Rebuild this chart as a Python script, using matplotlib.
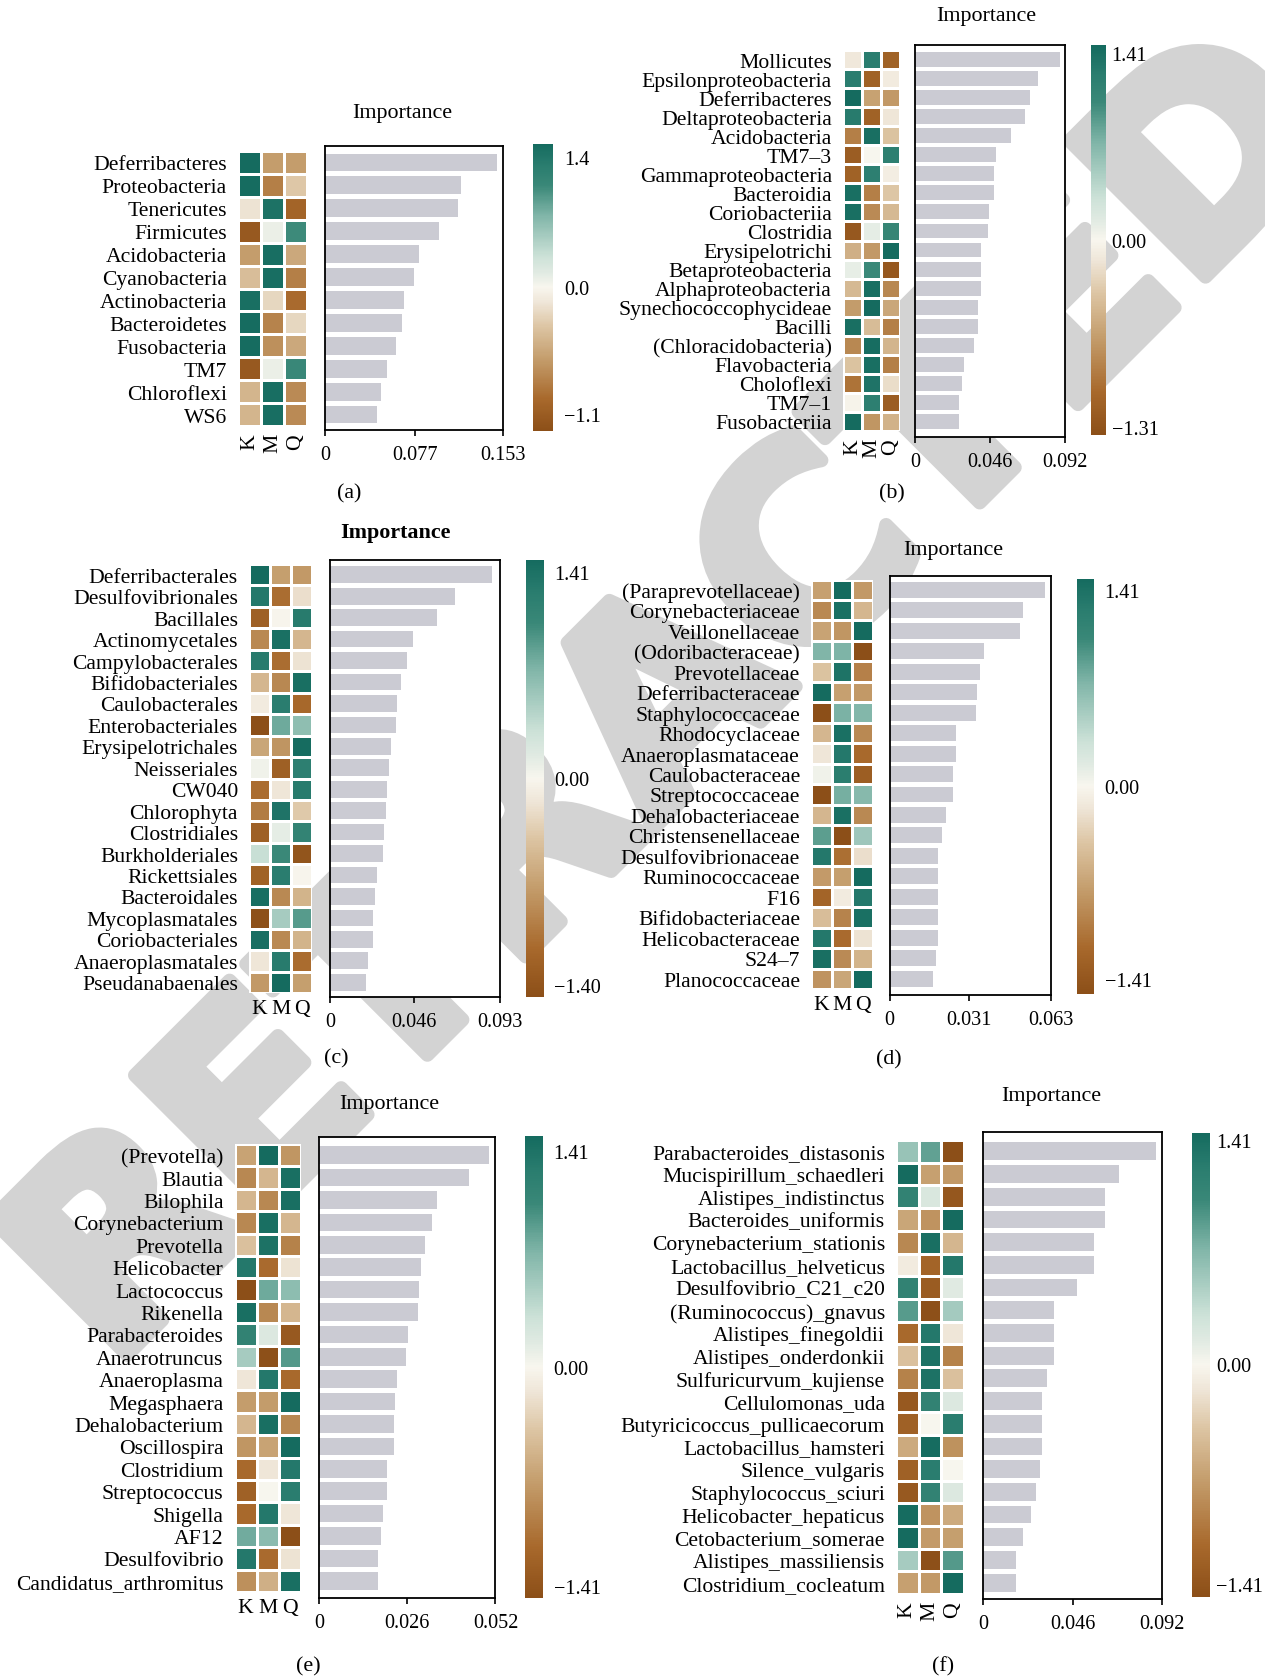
import matplotlib
matplotlib.use("Agg")
import matplotlib.pyplot as plt
import matplotlib.patheffects as pe
import matplotlib.transforms as mtransforms
import numpy as np
from matplotlib.colors import LinearSegmentedColormap, TwoSlopeNorm
from matplotlib.cm import ScalarMappable

plt.rcParams['font.family'] = ['Liberation Serif', 'DejaVu Serif']

# ---------------------------------------------------------------- data
# (a) phylum
a_taxa = ["Deferribacteres", "Proteobacteria", "Tenericutes", "Firmicutes",
          "Acidobacteria", "Cyanobacteria", "Actinobacteria", "Bacteroidetes",
          "Fusobacteria", "TM7", "Chloroflexi", "WS6"]
a_importance = [0.1478, 0.1170, 0.1146, 0.0981, 0.0805, 0.0768, 0.0677, 0.0658,
                0.0607, 0.0530, 0.0482, 0.0445]
a_K = [1.40, 1.38, -0.13, -1.00, -0.55, -0.35, 1.35, 1.38, 1.38, -1.00, -0.40, -0.40]
a_M = [-0.55, -0.73, 1.32, 0.08, 1.36, 1.36, -0.20, -0.70, -0.62, 0.08, 1.36, 1.36]
a_Q = [-0.55, -0.29, -0.90, 0.98, -0.48, -0.73, -0.85, -0.20, -0.48, 1.00, -0.66, -0.66]
a_range = (-1.1, 1.4)

# (b) class
b_taxa = ["Mollicutes", "Epsilonproteobacteria", "Deferribacteres", "Deltaproteobacteria",
          "Acidobacteria", "TM7–3", "Gammaproteobacteria", "Bacteroidia", "Coriobacteriia",
          "Clostridia", "Erysipelotrichi", "Betaproteobacteria", "Alphaproteobacteria",
          "Synechococcophycideae", "Bacilli", "(Chloracidobacteria)", "Flavobacteria",
          "Choloflexi", "TM7–1", "Fusobacteriia"]
b_importance = [0.0890, 0.0754, 0.0706, 0.0675, 0.0590, 0.0494, 0.0484, 0.0484, 0.0454,
                0.0449, 0.0406, 0.0406, 0.0406, 0.0386, 0.0386, 0.0363, 0.0300, 0.0287,
                0.0270, 0.0270]
b_K = [-0.12, 1.20, 1.41, 1.22, -0.86, -1.15, -1.10, 1.36, 1.36, -1.20,
       -0.52, 0.10, -0.45, -0.66, 1.36, -0.80, -0.37, -0.95, -0.03, 1.40]
b_M = [1.20, -1.10, -0.62, -1.10, 1.36, 0.00, 1.15, -0.86, -0.78, 0.12,
       -0.68, 1.00, 1.36, 1.40, -0.42, 1.38, 1.36, 1.30, 1.15, -0.70]
b_Q = [-1.10, -0.10, -0.68, -0.14, -0.37, 1.15, -0.08, -0.35, -0.45, 1.05,
       1.41, -1.20, -0.80, -0.58, -0.86, -0.48, -0.86, -0.20, -1.15, -0.50]
b_range = (-1.31, 1.41)

# (c) order
c_taxa = ["Deferribacterales", "Desulfovibrionales", "Bacillales", "Actinomycetales",
          "Campylobacterales", "Bifidobacteriales", "Caulobacterales", "Enterobacteriales",
          "Erysipelotrichales", "Neisseriales", "CW040", "Chlorophyta", "Clostridiales",
          "Burkholderiales", "Rickettsiales", "Bacteroidales", "Mycoplasmatales",
          "Coriobacteriales", "Anaeroplasmatales", "Pseudanabaenales"]
c_importance = [0.0891, 0.0686, 0.0588, 0.0454, 0.0423, 0.0389, 0.0368, 0.0362, 0.0334,
                0.0322, 0.0313, 0.0307, 0.0295, 0.0289, 0.0258, 0.0246, 0.0234, 0.0234,
                0.0206, 0.0197]
c_K = [1.41, 1.25, -1.20, -0.85, 1.22, -0.50, -0.10, -1.40, -0.63, 0.05,
       -1.07, -0.95, -1.20, 0.33, -1.18, 1.37, -1.38, 1.37, -0.15, -0.73]
c_M = [-0.68, -1.05, -0.02, 1.35, -1.05, -0.86, 1.20, 0.78, -0.76, -1.20,
       -0.15, 1.30, 0.12, 1.00, 1.20, -0.85, 0.50, -0.85, 1.22, 1.40]
c_Q = [-0.73, -0.20, 1.22, -0.50, -0.17, 1.36, -1.10, 0.62, 1.39, 1.15,
       1.22, -0.35, 1.08, -1.33, -0.02, -0.52, 0.88, -0.52, -1.07, -0.68]
c_range = (-1.40, 1.41)

# (d) family
d_taxa = ["(Paraprevotellaceae)", "Corynebacteriaceae", "Veillonellaceae",
          "(Odoribacteraceae)", "Prevotellaceae", "Deferribacteraceae",
          "Staphylococcaceae", "Rhodocyclaceae", "Anaeroplasmataceae", "Caulobacteraceae",
          "Streptococcaceae", "Dehalobacteriaceae", "Christensenellaceae",
          "Desulfovibrionaceae", "Ruminococcaceae", "F16", "Bifidobacteriaceae",
          "Helicobacteraceae", "S24–7", "Planococcaceae"]
d_importance = [0.0609, 0.0523, 0.0510, 0.0369, 0.0353, 0.0342, 0.0337, 0.0262, 0.0259,
                0.0248, 0.0248, 0.0220, 0.0207, 0.0191, 0.0191, 0.0191, 0.0188, 0.0188,
                0.0180, 0.0172]
d_K = [-0.68, -0.85, -0.66, 0.70, -0.40, 1.41, -1.41, -0.50, -0.15, 0.05,
       -1.41, -0.50, 0.85, 1.25, -0.72, -1.15, -0.45, 1.25, 1.36, -0.78]
d_M = [1.41, 1.35, -0.75, 0.71, 1.32, -0.68, 0.72, 1.35, 1.25, 1.18,
       0.74, 1.35, -1.40, -1.05, -0.69, -0.10, -0.90, -1.08, -0.84, -0.63]
d_Q = [-0.73, -0.50, 1.41, -1.41, -0.92, -0.73, 0.69, -0.85, -1.10, -1.23,
       0.67, -0.85, 0.55, -0.20, 1.41, 1.25, 1.35, -0.17, -0.52, 1.41]
d_range = (-1.41, 1.41)

# (e) genus
e_taxa = ["(Prevotella)", "Blautia", "Bilophila", "Corynebacterium", "Prevotella",
          "Helicobacter", "Lactococcus", "Rikenella", "Parabacteroides", "Anaerotruncus",
          "Anaeroplasma", "Megasphaera", "Dehalobacterium", "Oscillospira", "Clostridium",
          "Streptococcus", "Shigella", "AF12", "Desulfovibrio", "Candidatus_arthromitus"]
e_importance = [0.0502, 0.0441, 0.0349, 0.0334, 0.0311, 0.0301, 0.0296, 0.0293, 0.0261,
                0.0255, 0.0231, 0.0224, 0.0222, 0.0222, 0.0199, 0.0199, 0.0189, 0.0183,
                0.0175, 0.0175]
e_K = [-0.66, -0.86, -0.50, -0.86, -0.42, 1.25, -1.41, 1.36, 1.10, 0.50,
       -0.15, -0.70, -0.50, -0.75, -1.10, -1.20, -1.10, 0.77, 1.25, -0.80]
e_M = [1.41, -0.50, -0.86, 1.36, 1.33, -1.08, 0.78, -0.86, 0.18, -1.39,
       1.25, -0.71, 1.36, -0.66, -0.15, 0.00, 1.25, 0.64, -1.08, -0.56]
e_Q = [-0.75, 1.36, 1.36, -0.50, -0.91, -0.17, 0.63, -0.50, -1.28, 0.89,
       -1.10, 1.41, -0.86, 1.41, 1.25, 1.20, -0.15, -1.41, -0.17, 1.36]
e_range = (-1.41, 1.41)

# (f) species
f_taxa = ["Parabacteroides_distasonis", "Mucispirillum_schaedleri", "Alistipes_indistinctus",
          "Bacteroides_uniformis", "Corynebacterium_stationis", "Lactobacillus_helveticus",
          "Desulfovibrio_C21_c20", "(Ruminococcus)_gnavus", "Alistipes_finegoldii",
          "Alistipes_onderdonkii", "Sulfuricurvum_kujiense", "Cellulomonas_uda",
          "Butyricicoccus_pullicaecorum", "Lactobacillus_hamsteri", "Silence_vulgaris",
          "Staphylococcus_sciuri", "Helicobacter_hepaticus", "Cetobacterium_somerae",
          "Alistipes_massiliensis", "Clostridium_cocleatum"]
f_importance = [0.0888, 0.0698, 0.0627, 0.0627, 0.0570, 0.0570, 0.0481, 0.0365, 0.0365,
                0.0365, 0.0327, 0.0302, 0.0302, 0.0302, 0.0291, 0.0270, 0.0245, 0.0205,
                0.0169, 0.0169]
f_K = [0.58, 1.41, 1.10, -0.63, -0.86, -0.10, 1.10, 0.88, -1.10, -0.42,
       -0.91, -1.28, -1.20, -0.60, -1.20, -1.28, 1.39, 1.41, 0.50, -0.68]
f_M = [0.83, -0.68, 0.20, -0.78, 1.36, -1.15, -1.25, -1.39, 1.25, 1.33,
       1.33, 1.10, 0.00, 1.39, 1.20, 1.10, -0.78, -0.72, -1.39, -0.73]
f_Q = [-1.41, -0.73, -1.30, 1.41, -0.50, 1.25, 0.15, 0.51, -0.15, -0.91,
       -0.42, 0.18, 1.20, -0.79, 0.00, 0.18, -0.60, -0.69, 0.89, 1.41]
f_range = (-1.41, 1.41)

groups = ["K", "M", "Q"]

# ---------------------------------------------------------------- style
W, H = 1265, 1681
BAR_COLOR = "#cbcbd3"
WATERMARK = "#d3d3d3"
LABEL_FS = 15.6
TICK_FS = 14.6

cmap = LinearSegmentedColormap.from_list("brown_teal", [
    (0.000, "#8c4f18"), (0.110, "#a8692c"), (0.250, "#c49d6c"), (0.360, "#dcc4a2"),
    (0.447, "#efe6d8"), (0.500, "#f8f6ee"), (0.553, "#e0eae2"), (0.606, "#cde2d8"),
    (0.750, "#80b5a8"), (0.855, "#3a8878"), (0.925, "#2a7d6f"), (1.000, "#156b5f")])


def rect(x0, x1, y0, y1):
    """Pixel box (top-left origin) -> figure fraction rectangle."""
    return [x0 / W, 1 - y1 / H, (x1 - x0) / W, (y1 - y0) / H]


def fmt(v, nd):
    s = f"{abs(v):.{nd}f}"
    if v == 0:
        return s
    return ("−" if v < 0 else "") + s


# cbshift: (top label, bottom label) nudges toward the middle of the bar, in px
panels = [
    dict(tag="(a)", taxa=a_taxa, imp=a_importance, K=a_K, M=a_M, Q=a_Q, rng=a_range,
         xmax=0.153, xmid=0.077, nd_x=3, nd_c=1,
         hm=(238, 307, 152, 427), bar=(325, 503, 147, 431), cb=(533, 553, 144.5, 432),
         title=(402, 113.5), tagpos=(349, 494), rot=90, cbpad=11, bold=False,
         cbshift=(7, 5)),
    dict(tag="(b)", taxa=b_taxa, imp=b_importance, K=b_K, M=b_M, Q=b_Q, rng=b_range,
         xmax=0.092, xmid=0.046, nd_x=3, nd_c=2,
         hm=(843, 900, 51, 432), bar=(915, 1065, 45.5, 438), cb=(1091, 1106, 46, 436),
         title=(986, 17), tagpos=(892, 494), rot=90, cbpad=5.6, bold=False,
         cbshift=(1, -4)),
    dict(tag="(c)", taxa=c_taxa, imp=c_importance, K=c_K, M=c_M, Q=c_Q, rng=c_range,
         xmax=0.093, xmid=0.046, nd_x=3, nd_c=2,
         hm=(249, 312, 565, 994), bar=(330, 499.5, 561, 998), cb=(525.5, 544, 560.5, 998),
         title=(395.7, 533), tagpos=(336.5, 1058.5), rot=0, cbpad=10, bold=True,
         cbshift=(6, 0)),
    dict(tag="(d)", taxa=d_taxa, imp=d_importance, K=d_K, M=d_M, Q=d_Q, rng=d_range,
         xmax=0.063, xmid=0.031, nd_x=3, nd_c=2,
         hm=(811, 873, 580.5, 990), bar=(889.5, 1050.5, 577, 995.5),
         cb=(1076.5, 1094, 579.5, 994.5),
         title=(953, 550), tagpos=(888.6, 1060), rot=0, cbpad=10.6, bold=False,
         cbshift=(5, 2)),
    dict(tag="(e)", taxa=e_taxa, imp=e_importance, K=e_K, M=e_M, Q=e_Q, rng=e_range,
         xmax=0.052, xmid=0.026, nd_x=3, nd_c=2,
         hm=(234.5, 301, 1145, 1593), bar=(319, 495.5, 1137.5, 1599),
         cb=(524.5, 543, 1137, 1599),
         title=(389.5, 1104.5), tagpos=(308, 1667), rot=0, cbpad=10.6, bold=False,
         cbshift=(8, 0)),
    dict(tag="(f)", taxa=f_taxa, imp=f_importance, K=f_K, M=f_M, Q=f_Q, rng=f_range,
         xmax=0.092, xmid=0.046, nd_x=3, nd_c=2,
         hm=(896, 963.5, 1141, 1595), bar=(983, 1162, 1132.5, 1600),
         cb=(1191.5, 1209.5, 1133.5, 1597.5),
         title=(1051, 1097), tagpos=(943, 1666.5), rot=90, cbpad=6.5, bold=False,
         cbshift=(1, 0)),
]

fig = plt.figure(figsize=(W / 100, H / 100), dpi=100)
fig.patch.set_facecolor("white")

# watermark behind every axes
fig.text(675 / W, 1 - 705 / H, "RETRACTED", rotation=45, rotation_mode="anchor",
         ha="center", va="center", fontsize=190, color=WATERMARK,
         family="DejaVu Sans", weight="bold", zorder=-5,
         path_effects=[pe.withStroke(linewidth=10, foreground=WATERMARK)])

for p in panels:
    n = len(p["taxa"])
    vmin, vmax = p["rng"]
    norm = TwoSlopeNorm(vcenter=0.0, vmin=vmin, vmax=vmax)
    values = np.column_stack([p["K"], p["M"], p["Q"]])

    # heatmap of standardised abundance
    hx0, hx1, hy0, hy1 = p["hm"]
    axh = fig.add_axes(rect(hx0, hx1, hy0, hy1))
    axh.pcolormesh(np.arange(4), np.arange(n + 1), values, cmap=cmap, norm=norm,
                   edgecolors="white", linewidth=1.0)
    axh.set_xlim(0, 3)
    axh.set_ylim(n, 0)
    for s in axh.spines.values():
        s.set_visible(False)
    axh.set_yticks(np.arange(n) + 0.5)
    axh.set_yticklabels(p["taxa"], fontsize=LABEL_FS)
    axh.set_xticks(np.arange(3) + 0.5)
    axh.set_xticklabels(groups, fontsize=LABEL_FS, rotation=p["rot"])
    axh.tick_params(axis="y", length=0, pad=8)
    axh.tick_params(axis="x", length=0, pad=4 if p["rot"] == 0 else 5)

    # importance bars, rows aligned with the heatmap
    bx0, bx1, by0, by1 = p["bar"]
    axb = fig.add_axes(rect(bx0, bx1, by0, by1))
    pitch = (hy1 - hy0) / n
    axb.barh(np.arange(n), p["imp"], height=0.78, color=BAR_COLOR)
    axb.set_ylim(n - 0.5 + (by1 - hy1) / pitch, -0.5 - (hy0 - by0) / pitch)
    axb.set_xlim(0, p["xmax"])
    axb.set_yticks([])
    xt = [0, p["xmid"], p["xmax"]]
    axb.set_xticks(xt)
    axb.set_xticklabels(["0", f"{p['xmid']:.{p['nd_x']}f}", f"{p['xmax']:.{p['nd_x']}f}"],
                        fontsize=TICK_FS)
    axb.tick_params(axis="x", direction="out", length=4, width=1.2, pad=7)
    for s in axb.spines.values():
        s.set_linewidth(1.3)
        s.set_color("black")

    # colour scale
    cx0, cx1, cy0, cy1 = p["cb"]
    cax = fig.add_axes(rect(cx0, cx1, cy0, cy1))
    sm = ScalarMappable(norm=norm, cmap=cmap)
    cb = fig.colorbar(sm, cax=cax, ticks=[vmin, 0.0, vmax])
    cb.set_ticklabels([fmt(vmin, p["nd_c"]), fmt(0.0, p["nd_c"]), fmt(vmax, p["nd_c"])])
    cb.outline.set_visible(False)
    cax.tick_params(length=0, labelsize=TICK_FS, pad=p["cbpad"] * 0.72)
    tl = cax.get_yticklabels()
    top_dy, bot_dy = p["cbshift"]
    tl[0].set_va("bottom")
    tl[0].set_transform(tl[0].get_transform() +
                        mtransforms.ScaledTranslation(0, bot_dy / 100, fig.dpi_scale_trans))
    tl[-1].set_va("top")
    tl[-1].set_transform(tl[-1].get_transform() +
                         mtransforms.ScaledTranslation(0, -top_dy / 100, fig.dpi_scale_trans))

    tx, ty = p["title"]
    fig.text(tx / W, 1 - ty / H, "Importance", ha="center", va="center",
             fontsize=15.8, weight="bold" if p["bold"] else "normal")
    gx, gy = p["tagpos"]
    fig.text(gx / W, 1 - gy / H, p["tag"], ha="center", va="center", fontsize=15.8)

fig.savefig("out.png", dpi=100)
